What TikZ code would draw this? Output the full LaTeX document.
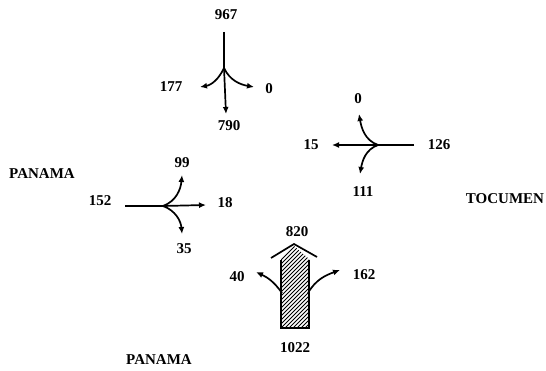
\documentclass[tikz,border=0pt]{standalone}
\usepackage{fontspec}
\setmainfont{Liberation Serif}
\usetikzlibrary{arrows.meta}
\begin{document}
\begin{tikzpicture}[x=1pt,y=1pt,
  lbl/.style={font=\fontsize{15}{17}\selectfont\bfseries, inner sep=1pt},
  flow/.style={line width=1.7pt, -{Latex[length=7pt,width=6pt]}},
  plain/.style={line width=1.7pt}]
\useasboundingbox (0,0) rectangle (546,370);
% ---- top group
\node[lbl] (n967) at (226,355) {967};
\node[lbl] (n790) at (229,244) {790};
\node[lbl] (n177) at (171,283) {177};
\node[lbl] (n0a)  at (269,281) {0};
\coordinate (t1) at (224,338);
\coordinate (j1) at (224,302);
\coordinate (d1) at (226,256);
\coordinate (l1) at (200,283);
\coordinate (r1) at (254,283);
\draw[plain] (t1) -- (j1);
\draw[flow] (j1) -- (d1);
\draw[flow] (j1) to[out=245,in=10] (l1);
\draw[flow] (j1) to[out=295,in=170] (r1);
% ---- right group
\node[lbl] (n0b)  at (358,271) {0};
\node[lbl] (n15)  at (311,225) {15};
\node[lbl] (n126) at (439,225) {126};
\node[lbl] (n111) at (363,178) {111};
\coordinate (j2) at (378,225);
\coordinate (s2) at (414,225);
\coordinate (w2) at (332,225);
\coordinate (u2) at (359,256);
\coordinate (dd2) at (360,196);
\draw[plain] (s2) -- (j2);
\draw[flow] (j2) -- (w2);
\draw[flow] (j2) to[out=160,in=-80] (u2);
\draw[flow] (j2) to[out=200,in=80] (dd2);
% ---- left group
\node[lbl] (p1)   at (42,196) {PANAMA};
\node[lbl] (n152) at (100,169) {152};
\node[lbl] (n18)  at (225,167) {18};
\node[lbl] (n99)  at (182,207) {99};
\node[lbl] (n35)  at (184,121) {35};
\coordinate (s3) at (125,164);
\coordinate (j3) at (163,164);
\coordinate (e3) at (206,165);
\coordinate (u3) at (182,195);
\coordinate (dd3) at (182,136);
\draw[plain] (s3) -- (j3);
\draw[flow] (j3) -- (e3);
\draw[flow] (j3) to[out=20,in=-95] (u3);
\draw[flow] (j3) to[out=-20,in=95] (dd3);
% ---- bottom group
\node[lbl] (n820)  at (297,138) {820};
\node[lbl] (n40)   at (237,93) {40};
\node[lbl] (n162)  at (364,95) {162};
\node[lbl] (n1022) at (295,22) {1022};
\node[lbl] (p2)    at (159,10) {PANAMA};
\node[lbl] (toc)   at (505,171) {TOCUMEN};
\coordinate (hl) at (271,112);
\coordinate (hr) at (317,113);
\coordinate (apex) at (294,126);
\begin{scope}
\clip (281,42) -- (281,111) -- (294,124) -- (309,111) -- (309,42) -- cycle;
\foreach \k in {-120,-116,...,60} {
  \draw[line width=0.9pt] (281+\k,42) -- ++(140,140);
}
\end{scope}
\draw[line width=2.2pt] (281,110) -- (281,42) -- (309,42) -- (309,110);
\draw[line width=1.7pt] (hl) -- (apex) -- (hr);
\coordinate (lc) at (282,77);
\coordinate (rc) at (308,77);
\coordinate (lt) at (256,98);
\coordinate (rt) at (340,100);
\draw[flow] (lc) to[out=125,in=-25] (lt);
\draw[flow] (rc) to[out=60,in=200] (rt);
\end{tikzpicture}
\end{document}
